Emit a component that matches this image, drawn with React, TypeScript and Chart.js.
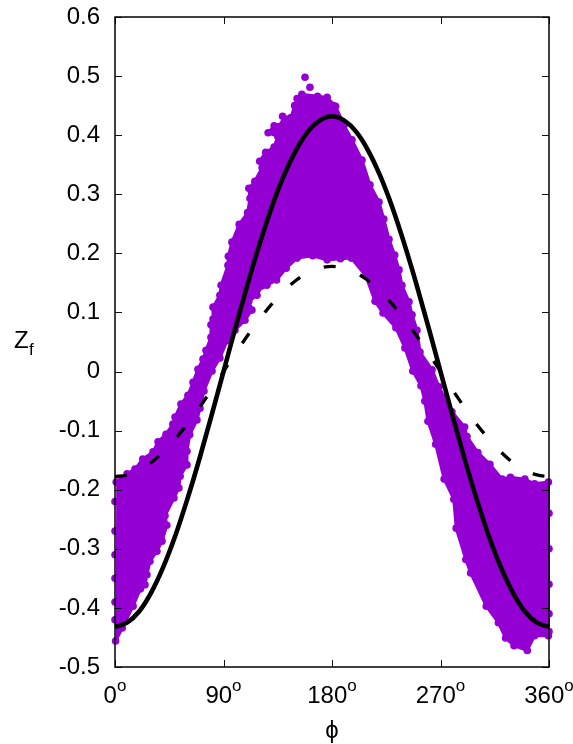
import { useEffect, useRef } from "react";
import { Chart, registerables } from "chart.js";

Chart.register(...registerables);

const FONT = '"Liberation Sans", Arial, sans-serif';
const VIOLET = "#9400D3";

const xTickValues = [0, 90, 180, 270, 360];

// Outer edge of the dense point cloud as [phi, z].
const cloudUpper: number[][] = [
  [1, -0.187], [10, -0.173], [16.6, -0.165], [23, -0.148], [31.5, -0.136], [35.7, -0.119], [42.3, -0.106], [48, -0.089],
  [49.8, -0.077], [54.7, -0.055], [60.5, -0.04], [64.7, -0.018], [68.8, 0.004], [73, 0.021], [75.5, 0.036], [79.6, 0.058],
  [79.6, 0.079], [81.3, 0.089], [81.3, 0.109], [87, 0.129], [88, 0.146], [93.7, 0.18], [94, 0.195], [97, 0.219],
  [103, 0.249], [110, 0.269], [112, 0.293], [111, 0.31], [116, 0.322], [122, 0.345], [120, 0.356], [125, 0.371],
  [132, 0.38], [135, 0.398], [127, 0.404], [132, 0.416], [140, 0.421], [139, 0.432], [146, 0.43], [149, 0.45],
  [151, 0.462], [155, 0.469], [168, 0.466], [176, 0.464], [183, 0.449], [190, 0.417], [196.6, 0.392], [204.9, 0.358],
  [211.5, 0.316], [219, 0.287], [223, 0.258], [227.3, 0.224], [232, 0.197], [235.6, 0.172], [238, 0.146], [243.9, 0.118],
  [246.4, 0.096], [250.5, 0.07], [253, 0.033], [263, 0.003], [268.7, -0.026], [279.5, -0.068], [290, -0.094], [292, -0.11],
  [301, -0.137], [311, -0.157], [321, -0.182], [328, -0.179], [340, -0.182], [348, -0.19], [359.5, -0.187],
];
const cloudLower: number[][] = [
  [0.5, -0.456], [6, -0.434], [15, -0.397], [21, -0.368], [24.9, -0.361], [26.5, -0.344], [29, -0.321], [34.8, -0.304],
  [39, -0.287], [43, -0.26], [41.5, -0.244], [48.9, -0.214], [53, -0.197], [54, -0.177], [59.7, -0.158], [59.7, -0.135],
  [62, -0.107], [68, -0.082], [70.5, -0.062], [73.8, -0.033], [80.5, 0.001], [87, 0.023], [92.9, 0.052], [99.5, 0.07],
  [107.8, 0.087], [113.6, 0.104], [111, 0.119], [117.8, 0.129], [122, 0.145], [126, 0.146], [134, 0.155], [142, 0.175],
  [151, 0.192], [164, 0.196], [176, 0.189], [187, 0.191], [196, 0.192], [208, 0.162], [215.7, 0.119], [222.3, 0.099],
  [233, 0.074], [240.5, 0.04], [247, 0.001], [253.8, -0.024], [257, -0.05], [259.6, -0.084], [266, -0.123], [273, -0.182],
  [281, -0.216], [283, -0.265], [291, -0.318], [295, -0.341], [308, -0.397], [318, -0.425], [324, -0.451], [331, -0.464],
  [342, -0.472], [348, -0.447], [359.5, -0.447],
];
// Individually visible stragglers and the points along the two side borders.
const cloudStragglers: number[][] = [
  [157.6, 0.498], [161.7, 0.481], [181, 0.45], [0, -0.22], [0, -0.27], [0, -0.31], [0, -0.35], [0, -0.39], [0, -0.42],
  [360, -0.24], [360, -0.3], [360, -0.36], [360, -0.41], [360, -0.44],
];

const curvePhi = [0, 10, 20, 30, 40, 50, 60, 70, 80, 90, 100, 110, 120, 130, 140, 150, 160, 170, 180, 190, 200, 210,
  220, 230, 240, 250, 260, 270, 280, 290, 300, 310, 320, 330, 340, 350, 360];
const solidZ = [-0.432, -0.425, -0.406, -0.374, -0.331, -0.278, -0.216, -0.148, -0.075, 0, 0.075, 0.148, 0.216, 0.278,
  0.331, 0.374, 0.406, 0.425, 0.432, 0.425, 0.406, 0.374, 0.331, 0.278, 0.216, 0.148, 0.075, 0, -0.075, -0.148,
  -0.216, -0.278, -0.331, -0.374, -0.406, -0.425, -0.432];
const dashedZ = [-0.178, -0.175, -0.167, -0.154, -0.136, -0.114, -0.089, -0.061, -0.031, 0, 0.031, 0.061, 0.089, 0.114,
  0.136, 0.154, 0.167, 0.175, 0.178, 0.175, 0.167, 0.154, 0.136, 0.114, 0.089, 0.061, 0.031, 0, -0.031, -0.061,
  -0.089, -0.114, -0.136, -0.154, -0.167, -0.175, -0.178];

const toXY = (rows: number[][]) => rows.map(([x, y]) => ({ x, y }));

const framePlugin = {
  id: "frame",
  afterDatasetsDraw(chart: any) {
    const { ctx, chartArea: a, scales } = chart;
    const tick = 7;
    ctx.save();
    ctx.strokeStyle = "#111";
    ctx.lineWidth = 1;
    ctx.beginPath();
    for (const t of scales.y.ticks) {
      const p = Math.round(scales.y.getPixelForValue(t.value)) + 0.5;
      ctx.moveTo(a.left, p); ctx.lineTo(a.left + tick, p);
      ctx.moveTo(a.right, p); ctx.lineTo(a.right - tick, p);
    }
    for (const v of xTickValues) {
      const p = Math.round(scales.x.getPixelForValue(v)) + 0.5;
      ctx.moveTo(p, a.bottom); ctx.lineTo(p, a.bottom - tick);
      ctx.moveTo(p, a.top); ctx.lineTo(p, a.top + tick);
    }
    ctx.stroke();
    ctx.lineWidth = 1.5;
    ctx.strokeStyle = "#000";
    ctx.strokeRect(a.left, a.top, a.right - a.left, a.bottom - a.top);

    // x tick labels with raised degree mark
    ctx.fillStyle = "#000";
    ctx.textBaseline = "alphabetic";
    ctx.textAlign = "left";
    for (const v of xTickValues) {
      ctx.font = `24px ${FONT}`;
      const s = String(v);
      const w = ctx.measureText(s).width;
      ctx.font = `17px ${FONT}`;
      const wo = ctx.measureText("o").width;
      const x0 = scales.x.getPixelForValue(v) - (w + wo) / 2;
      ctx.font = `24px ${FONT}`;
      ctx.fillText(s, x0, 703);
      ctx.font = `17px ${FONT}`;
      ctx.fillText("o", x0 + w, 691);
    }
    // axis titles
    ctx.font = `24px ${FONT}`;
    ctx.textAlign = "center";
    ctx.fillText("\u03D5", 332, 738);
    ctx.textAlign = "left";
    ctx.fillText("Z", 14, 348);
    ctx.font = `17px ${FONT}`;
    ctx.fillText("f", 29, 355);
    ctx.restore();
  },
};

export default function App() {
  const ref = useRef<HTMLCanvasElement>(null);
  useEffect(() => {
    const chart = new Chart(ref.current!, {
      type: "scatter",
      data: {
        datasets: [
          {
            label: "solid",
            data: curvePhi.map((x, i) => ({ x, y: solidZ[i] })),
            showLine: true, borderColor: "#000", borderWidth: 4.6, pointRadius: 0,
            cubicInterpolationMode: "monotone", order: 1, clip: false,
          },
          {
            label: "dashed",
            data: curvePhi.map((x, i) => ({ x, y: dashedZ[i] })),
            showLine: true, borderColor: "#000", borderWidth: 3.3, borderDash: [12, 26], pointRadius: 0,
            cubicInterpolationMode: "monotone", order: 2, clip: false,
          },
          {
            label: "points",
            data: [...toXY(cloudUpper), ...toXY(cloudLower), ...toXY(cloudStragglers)],
            backgroundColor: VIOLET, borderColor: VIOLET, pointRadius: 3.8, borderWidth: 0, order: 3, clip: false,
          },
          {
            label: "cloud extent",
            data: [...toXY(cloudUpper), ...toXY([...cloudLower].reverse())],
            showLine: true, fill: "shape", backgroundColor: VIOLET, borderColor: VIOLET, borderWidth: 3,
            pointRadius: 0, order: 4, clip: false,
          },
        ] as any,
      },
      options: {
        animation: false,
        responsive: false,
        layout: { padding: { top: 17, right: 24, left: 0, bottom: 0 }, autoPadding: false },
        plugins: { legend: { display: false }, tooltip: { enabled: false } },
        scales: {
          x: {
            type: "linear", min: 0, max: 360,
            afterFit: (s: any) => { s.height = 77; s.paddingLeft = 0; s.paddingRight = 0; },
            grid: { display: false },
            border: { display: false },
            ticks: { display: false, stepSize: 90 },
          },
          y: {
            type: "linear", min: -0.5, max: 0.6,
            afterFit: (s: any) => { s.width = 115; s.paddingTop = 0; s.paddingBottom = 0; },
            grid: { display: false, drawTicks: false },
            border: { display: false },
            ticks: {
              stepSize: 0.1, padding: 15, color: "#000",
              font: { family: FONT, size: 24 },
              callback: (v: any) => (Math.abs(v) < 1e-9 ? "0" : Number(v).toFixed(1)),
            },
          },
        },
      } as any,
      plugins: [framePlugin],
    });
    return () => chart.destroy();
  }, []);
  return (
    <div style={{ position: "absolute", left: 0, top: 0, width: 573, height: 744 }}>
      <canvas ref={ref} width={573} height={744} style={{ display: "block" }} />
    </div>
  );
}
